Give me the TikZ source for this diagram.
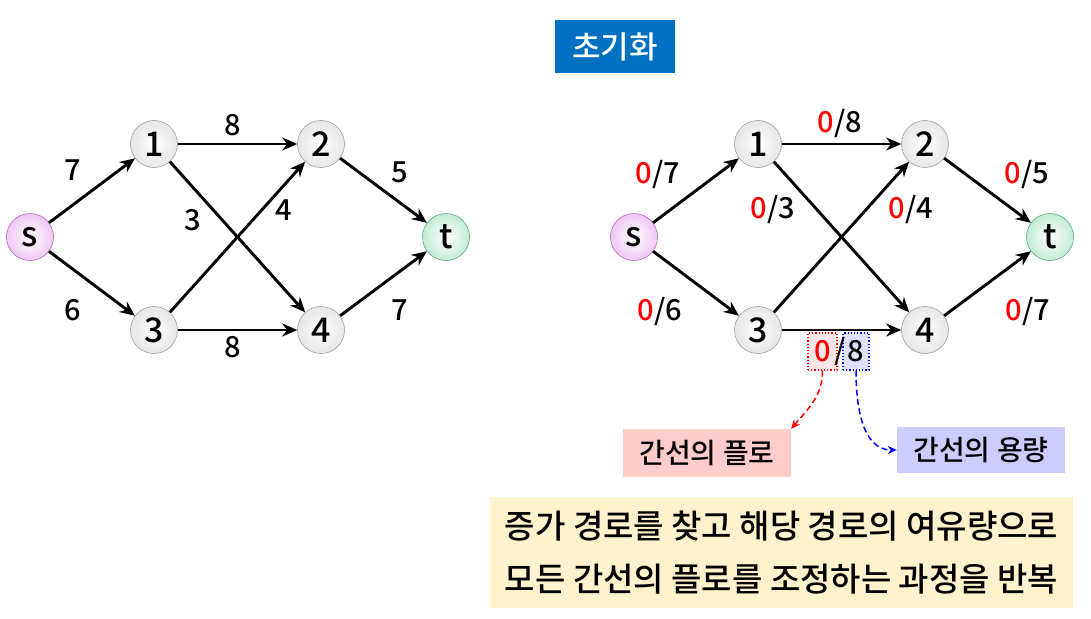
\documentclass[tikz,border=0pt]{standalone}
\usepackage{fontspec}
\setmainfont{Noto Sans CJK KR Medium}
\usetikzlibrary{arrows.meta}
\definecolor{titleblue}{RGB}{0,112,192}
\definecolor{flowbg}{RGB}{255,204,204}
\definecolor{capbg}{RGB}{204,204,255}
\definecolor{notebg}{RGB}{255,242,204}
\definecolor{sball}{RGB}{220,130,230}
\definecolor{tball}{RGB}{120,210,160}
\definecolor{vball}{RGB}{200,200,200}
\tikzset{
  vtx/.style={circle, minimum size=47pt, inner sep=0pt, draw=#1!80!black, line width=0.6pt,
     inner color=white, outer color=#1!45!white, font=\fontsize{34}{38}\selectfont},
  edge/.style={line width=2.9pt, -{Stealth[length=15pt,width=13pt]}},
  lbl/.style={font=\fontsize{29}{32}\selectfont, inner sep=0pt},
  kr/.style={font=\fontsize{28}{32}\selectfont, inner sep=0pt},
  cdash/.style={dash pattern=on 6pt off 3.5pt, line width=1.5pt, -{Stealth[length=9pt,width=8pt]}},
}
\newcommand{\fz}{\textcolor{red}{0}}
\begin{document}
\begin{tikzpicture}[x=1pt,y=-1pt]
\useasboundingbox (0,0) rectangle (1091,618);
% title
\node[fill=titleblue, text=white, minimum width=120pt, minimum height=53pt, inner sep=0pt,
  font=\fontsize{31}{34}\selectfont] (title) at (615,46.5) {초기화};
% left graph
\node[vtx=sball] (s) at (30,237) {s};
\node[vtx=vball] (n1) at (154,144) {1};
\node[vtx=vball] (n2) at (321,144) {2};
\node[vtx=vball] (n3) at (154,330) {3};
\node[vtx=vball] (n4) at (321,330) {4};
\node[vtx=tball] (t) at (446,237) {t};
\draw[edge] (s) -- (n1);
\draw[edge] (s) -- (n3);
\draw[edge] (n1) -- (n2);
\draw[edge] (n1) -- (n4);
\draw[edge] (n3) -- (n2);
\draw[edge] (n3) -- (n4);
\draw[edge] (n2) -- (t);
\draw[edge] (n4) -- (t);
\node[lbl] (l1) at (233,125) {8};
\node[lbl] (l2) at (73,170) {7};
\node[lbl] (l3) at (193,220) {3};
\node[lbl] (l4) at (284,210) {4};
\node[lbl] (l5) at (400,172) {5};
\node[lbl] (l6) at (73,310) {6};
\node[lbl] (l7) at (233,347) {8};
\node[lbl] (l8) at (400,310) {7};
% right graph
\node[vtx=sball] (rs) at (634,237) {s};
\node[vtx=vball] (r1) at (758,144) {1};
\node[vtx=vball] (r2) at (925,144) {2};
\node[vtx=vball] (r3) at (758,330) {3};
\node[vtx=vball] (r4) at (925,330) {4};
\node[vtx=tball] (rt) at (1050,237) {t};
\draw[edge] (rs) -- (r1);
\draw[edge] (rs) -- (r3);
\draw[edge] (r1) -- (r2);
\draw[edge] (r1) -- (r4);
\draw[edge] (r3) -- (r2);
\draw[edge] (r3) -- (r4);
\draw[edge] (r2) -- (rt);
\draw[edge] (r4) -- (rt);
\node[lbl] (rl1) at (840,124) {\fz/8};
\node[lbl] (rl2) at (658,175) {\fz/7};
\node[lbl] (rl3) at (773,210) {\fz/3};
\node[lbl] (rl4) at (911,210) {\fz/4};
\node[lbl] (rl5) at (1027,175) {\fz/5};
\node[lbl] (rl6) at (660,312) {\fz/6};
\node[lbl] (rl8) at (1028,312) {\fz/7};
% 3->4 label with dotted boxes
\node[lbl, draw=red, dotted, line width=1.2pt, fill=flowbg!50, minimum width=29pt, minimum height=37pt, text=red] (f) at (822.5,351.5) {0};
\node[lbl, draw=blue, dotted, line width=1.2pt, fill=capbg!60, minimum width=26pt, minimum height=37pt] (c) at (856,351.5) {8};
\node[lbl] (sl) at (840,352) {/};
% explanation boxes
\node[kr, fill=flowbg, minimum width=168pt, minimum height=48pt] (flo) at (707,453) {간선의 플로};
\node[kr, fill=capbg, minimum width=168pt, minimum height=46pt] (cap) at (981,450) {간선의 용량};
\draw[red, cdash] (f.south) to[out=-90,in=50] (flo.north east);
\draw[blue, cdash] (c.south) to[out=-90,in=180] (cap.west);
% note
\node[fill=notebg, minimum width=583pt, minimum height=111pt, inner sep=0pt, align=left,
  font=\fontsize{33}{53}\selectfont] (note) at (781.5,552.5) {증가 경로를 찾고 해당 경로의 여유량으로\\모든 간선의 플로를 조정하는 과정을 반복};
\end{tikzpicture}
\end{document}
